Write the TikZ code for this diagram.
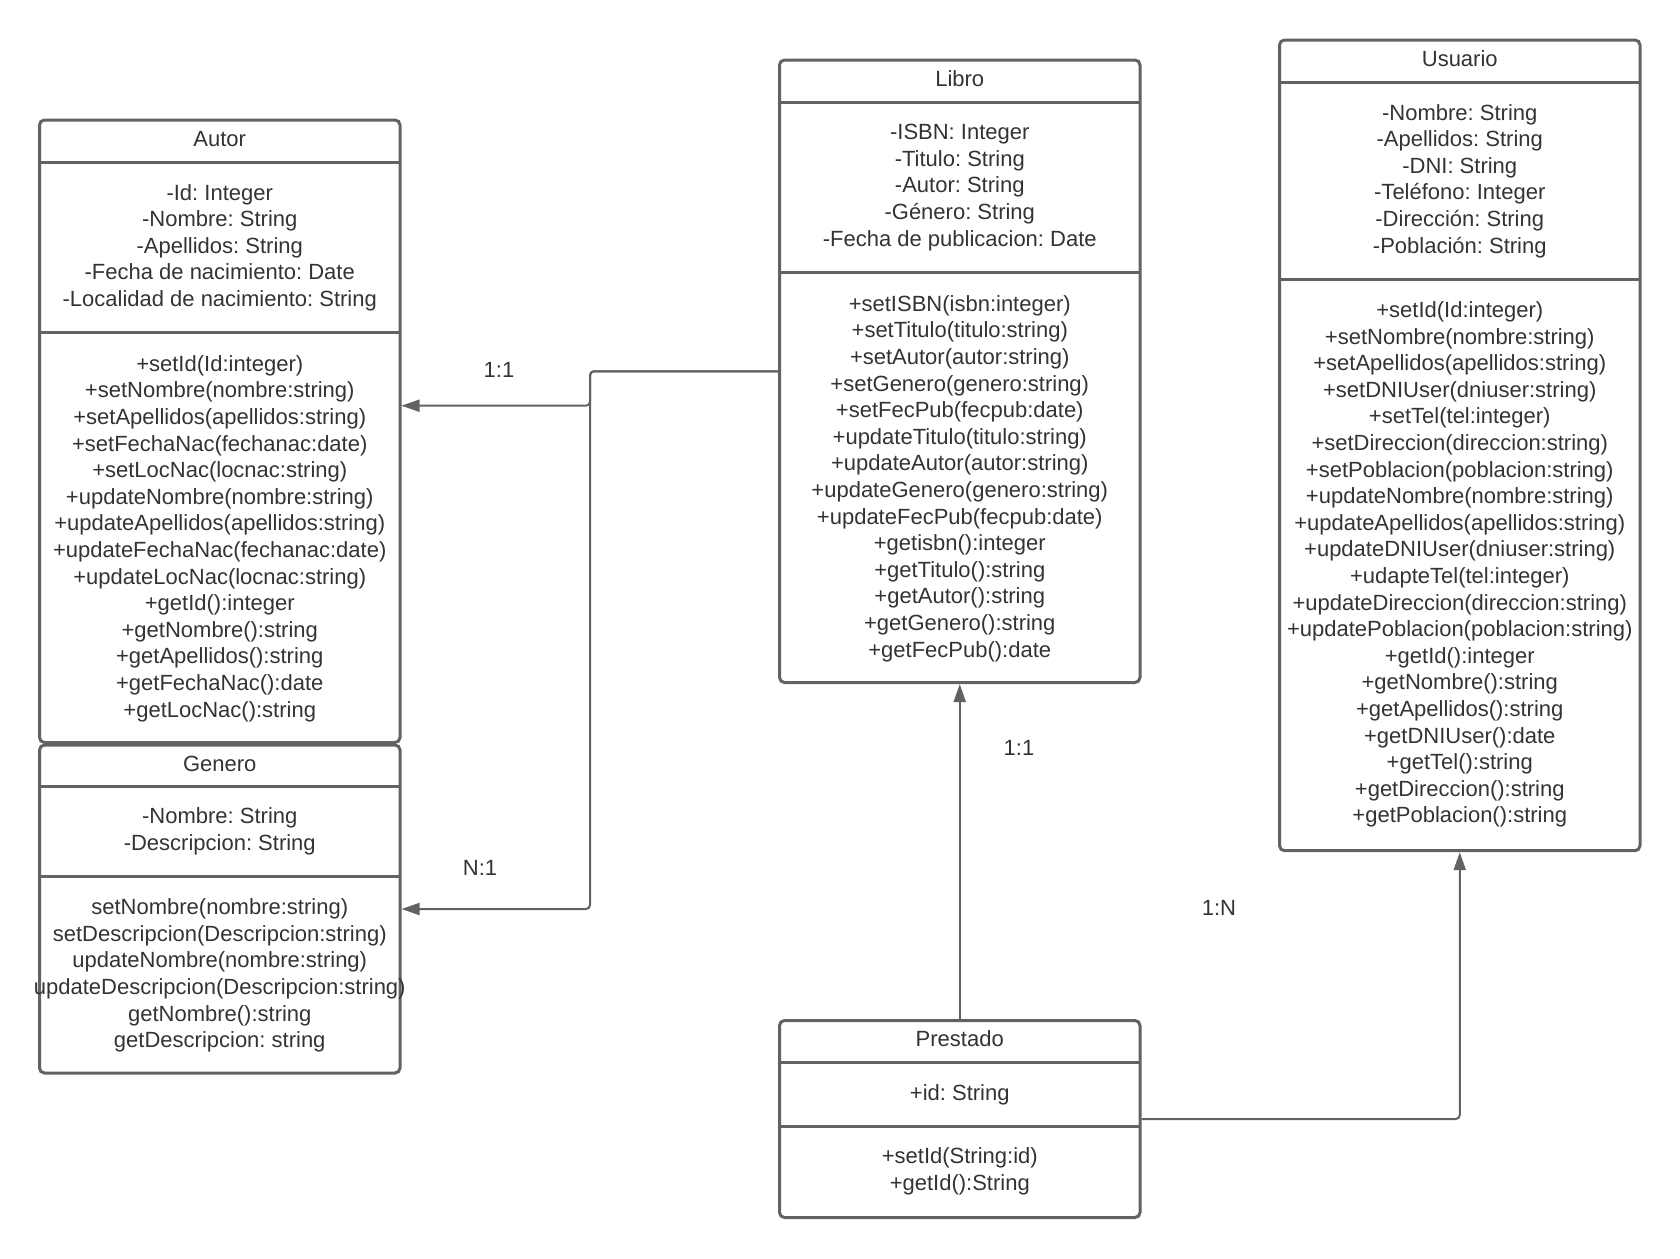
\documentclass[tikz,border=0pt]{standalone}
\usepackage{fontspec}
\setmainfont{Liberation Sans}
\usetikzlibrary{arrows.meta}
\definecolor{lineg}{RGB}{98,98,98}
\definecolor{txtc}{RGB}{51,51,51}
\newcommand\fsz{\fontsize{22}{26.6}\selectfont\frenchspacing}
\tikzset{
  cls/.style={draw=lineg, line width=3pt, rounded corners=5pt, inner sep=0pt, minimum width=360.5pt},
  sepline/.style={draw=lineg, line width=3pt},
  txt/.style={text=txtc, font=\fsz, align=center, inner sep=0pt},
  conn/.style={draw=lineg, line width=2pt, rounded corners=4pt, -{Triangle[length=18pt,width=12pt]}},
  lbl/.style={text=txtc, font=\fsz, inner sep=0pt}
}
\begin{document}
\begin{tikzpicture}[x=1pt,y=-1pt]
\useasboundingbox (0,0) rectangle (1680,1258);
% ---- Autor
\node[cls, minimum height=622.5pt] (autor) at (219.75,431.25) {};
\draw[sepline] (39.5,162.3) -- (400,162.3);
\draw[sepline] (39.5,332) -- (400,332);
\node[txt] (autorT) at (219.75,139) {Autor};
\node[txt] (autorA) at (219.75,247.7) {-Id: Integer\\-Nombre: String\\-Apellidos: String\\-Fecha de nacimiento: Date\\-Localidad de nacimiento: String};
\node[txt] (autorM) at (219.75,538.5) {+setId(Id:integer)\\+setNombre(nombre:string)\\+setApellidos(apellidos:string)\\+setFechaNac(fechanac:date)\\+setLocNac(locnac:string)\\+updateNombre(nombre:string)\\+updateApellidos(apellidos:string)\\+updateFechaNac(fechanac:date)\\+updateLocNac(locnac:string)\\+getId():integer\\+getNombre():string\\+getApellidos():string\\+getFechaNac():date\\+getLocNac():string};
% ---- Genero
\node[cls, minimum height=328pt] (genero) at (219.75,909) {};
\draw[sepline] (39.5,786) -- (400,786);
\draw[sepline] (39.5,876.7) -- (400,876.7);
\node[txt] (generoT) at (219.75,764) {Genero};
\node[txt] (generoA) at (219.75,831.5) {-Nombre: String\\-Descripcion: String};
\node[txt] (generoM) at (219.75,975.5) {setNombre(nombre:string)\\setDescripcion(Descripcion:string)\\updateNombre(nombre:string)\\updateDescripcion(Descripcion:string)\\getNombre():string\\getDescripcion: string};
% ---- Libro
\node[cls, minimum height=622.5pt] (libro) at (959.75,371.25) {};
\draw[sepline] (779.5,102.3) -- (1140,102.3);
\draw[sepline] (779.5,272.3) -- (1140,272.3);
\node[txt] (libroT) at (959.75,79) {Libro};
\node[txt] (libroA) at (959.75,187.5) {-ISBN: Integer\\-Titulo: String\\-Autor: String\\-Género: String\\-Fecha de publicacion: Date};
\node[txt] (libroM) at (959.75,478.5) {+setISBN(isbn:integer)\\+setTitulo(titulo:string)\\+setAutor(autor:string)\\+setGenero(genero:string)\\+setFecPub(fecpub:date)\\+updateTitulo(titulo:string)\\+updateAutor(autor:string)\\+updateGenero(genero:string)\\+updateFecPub(fecpub:date)\\+getisbn():integer\\+getTitulo():string\\+getAutor():string\\+getGenero():string\\+getFecPub():date};
% ---- Usuario
\node[cls, minimum height=810.7pt] (usuario) at (1459.75,445.35) {};
\draw[sepline] (1279.5,82.3) -- (1640,82.3);
\draw[sepline] (1279.5,279.3) -- (1640,279.3);
\node[txt] (usuarioT) at (1459.75,58.5) {Usuario};
\node[txt] (usuarioA) at (1459.75,181) {-Nombre: String\\-Apellidos: String\\-DNI: String\\-Teléfono: Integer\\-Dirección: String\\-Población: String};
\node[txt] (usuarioM) at (1459.75,564.5) {+setId(Id:integer)\\+setNombre(nombre:string)\\+setApellidos(apellidos:string)\\+setDNIUser(dniuser:string)\\+setTel(tel:integer)\\+setDireccion(direccion:string)\\+setPoblacion(poblacion:string)\\+updateNombre(nombre:string)\\+updateApellidos(apellidos:string)\\+updateDNIUser(dniuser:string)\\+udapteTel(tel:integer)\\+updateDireccion(direccion:string)\\+updatePoblacion(poblacion:string)\\+getId():integer\\+getNombre():string\\+getApellidos():string\\+getDNIUser():date\\+getTel():string\\+getDireccion():string\\+getPoblacion():string};
% ---- Prestado
\node[cls, minimum height=197pt] (prestado) at (959.75,1119) {};
\draw[sepline] (779.5,1062) -- (1140,1062);
\draw[sepline] (779.5,1126) -- (1140,1126);
\node[txt] (prestadoT) at (959.75,1039) {Prestado};
\node[txt] (prestadoA) at (959.75,1094.8) {+id: String};
\node[txt] (prestadoM) at (959.75,1171) {+setId(String:id)\\+getId():String};
% ---- connectors
\coordinate (j1) at (590,371.25);
\coordinate (j2) at (590,405.7);
\draw[conn] (libro.west) -- (j1) -- (j2) -- (j2 -| autor.east);
\draw[conn] (libro.west) -- (j1) |- (genero.east);
\draw[conn] (prestado.north) -- (libro.south);
\draw[conn] (prestado.east) -| (usuario.south);
% ---- labels
\node[lbl] (l1) at (499,370) {1:1};
\node[lbl] (l2) at (480,868) {N:1};
\node[lbl] (l3) at (1019,748) {1:1};
\node[lbl] (l4) at (1219,907.5) {1:N};
\end{tikzpicture}
\end{document}
